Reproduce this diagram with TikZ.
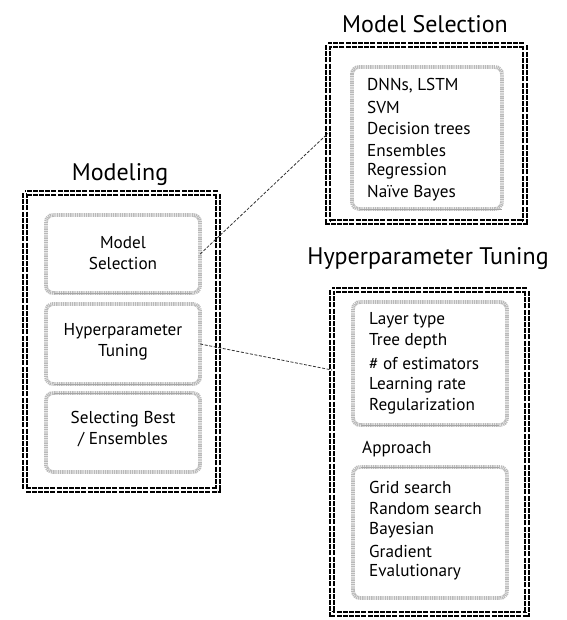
\documentclass[tikz,border=0pt]{standalone}
\usepackage{fontspec}
\setmainfont{PT Sans}
\begin{document}
\begin{tikzpicture}[x=1pt,y=-1pt,
  outerbox/.style={draw=black, double=white, double distance=1.6pt, line width=2pt, dash pattern=on 5pt off 1.2pt},
  innerbox/.style={draw=gray!55, line width=3.8pt, dash pattern=on 1.1pt off 0.7pt, rounded corners=7pt, fill=white},
  innershade/.style={draw=gray!70, line width=0.8pt},
  conn/.style={draw=black!80, line width=0.8pt, dash pattern=on 3pt off 1.6pt},
  title/.style={font=\fontsize{24}{28}\selectfont},
  body/.style={font=\fontsize{17.2}{20.5}\selectfont},
  item/.style={font=\fontsize{17.2}{20}\selectfont, anchor=west, inner sep=0pt}
]
\useasboundingbox (0,0) rectangle (566,620);

% ---------- Modeling ----------
\node[title] (modtitle) at (120,175) {Modeling};
\draw[outerbox] (25,193) rectangle (218,490);

\draw[innerbox] (46,215) rectangle (200,293);
\draw[innershade] (54,293.5) -- (192,293.5);
\node[minimum width=154pt, minimum height=78pt, inner sep=0pt] (msbox) at (123,254) {};
\node[body, align=center] (mstext) at (123,253) {Model\\Selection};

\draw[innerbox] (46,304) rectangle (200,384);
\draw[innershade] (54,384.5) -- (192,384.5);
\node[minimum width=154pt, minimum height=80pt, inner sep=0pt] (htbox) at (123,344) {};
\node[body, align=center] (httext) at (123,342) {Hyperparameter\\Tuning};

\draw[innerbox] (46,393) rectangle (200,472);
\draw[innershade] (54,393.5) -- (192,393.5);
\node[minimum width=154pt, minimum height=79pt, inner sep=0pt] (sbbox) at (123,432.5) {};
\node[body, align=center] (sbtext) at (123,429) {Selecting Best\\/ Ensembles};

% ---------- Model Selection ----------
\node[title] (mstitle) at (425,24) {Model Selection};
\draw[outerbox] (328,45) rectangle (525,222);
\node[minimum width=197pt, minimum height=177pt, inner sep=0pt] (msouter) at (426.5,133.5) {};
\draw[innerbox] (352,67) rectangle (502,209);
\draw[innershade] (360,209.5) -- (502,209.5);
\foreach \t [count=\i] in {{DNNs, LSTM},SVM,Decision trees,Ensembles,Regression,Naïve Bayes}{
  \node[item] (msi\i) at (367,{86+21.4*(\i-1)}) {\t};
}

% ---------- Hyperparameter Tuning ----------
\node[title] (httitle) at (428,259) {Hyperparameter Tuning};
\draw[outerbox] (332,290) rectangle (527,614);
\coordinate (htin) at (332,370);

\draw[innerbox] (353,302) rectangle (507,425);
\draw[innershade] (361,425.5) -- (499,425.5);
\foreach \t [count=\i] in {Layer type,Tree depth,\# of estimators,Learning rate,Regularization}{
  \node[item] (hti\i) at (369,{320+21.6*(\i-1)}) {\t};
}
\node[item] (approach) at (362,449) {Approach};

\draw[innerbox] (353,467) rectangle (507,598);
\draw[innershade] (361,467.5) -- (499,467.5);
\foreach \t [count=\i] in {Grid search,Random search,Bayesian,Gradient,Evalutionary}{
  \node[item] (apj\i) at (369,{487+21.4*(\i-1)}) {\t};
}

% ---------- connectors ----------
\draw[conn] (msbox.east) -- (msouter.west);
\draw[conn] (htbox.east) -- (htin);
\end{tikzpicture}
\end{document}
